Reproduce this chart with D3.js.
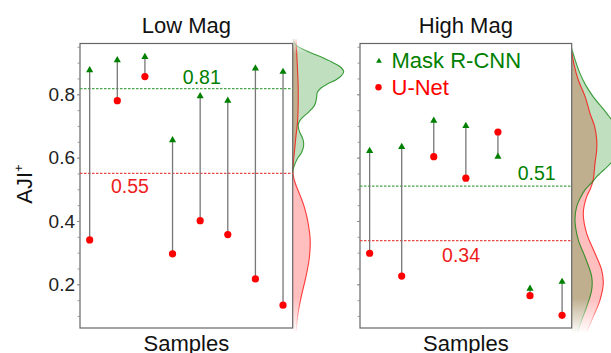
<!DOCTYPE html>
<html>
<head>
<meta charset="utf-8">
<script src="https://cdn.jsdelivr.net/npm/d3@7"></script>
<style>
  body { margin: 0; background: #fff; }
  svg { display: block; font-family: "Liberation Sans", Arial, sans-serif; }
</style>
</head>
<body>
<svg id="chart" width="611" height="353"></svg>
<script>
// per-sample AJI+ values
const lowMask = [0.876, 0.908, 0.918, 0.655, 0.794, 0.780, 0.882, 0.871];
const lowUnet = [0.340, 0.780, 0.856, 0.296, 0.401, 0.357, 0.217, 0.134];
const highMask = [0.621, 0.634, 0.717, 0.700, 0.603, 0.186, 0.208];
const highUnet = [0.298, 0.226, 0.603, 0.535, 0.681, 0.164, 0.102];

// mean lines [mask, unet] and their labels
const lowMeans = [0.818, 0.55];
const highMeans = [0.51, 0.338];
const lowMeanLabels = ["0.81", "0.55"];
const highMeanLabels = ["0.51", "0.34"];

// density curves [AJI, density]
const lowMaskKde = [[0.975, 0.05], [0.956, 0.3], [0.940, 1.2], [0.919, 2.75], [0.902, 3.9], [0.887, 4.75],
  [0.871, 5.1], [0.858, 4.85], [0.845, 4.3], [0.833, 3.5], [0.819, 2.8], [0.805, 2.45], [0.792, 2.4],
  [0.775, 2.3], [0.761, 2.1], [0.744, 1.6], [0.729, 1.05], [0.716, 0.7], [0.703, 0.55], [0.690, 0.6],
  [0.677, 0.75], [0.661, 1.0], [0.645, 1.1], [0.630, 1.05], [0.614, 0.85], [0.598, 0.5], [0.582, 0.25],
  [0.561, 0.03], [0.55, 0]];
const lowUnetKde = [[0.975, 0.33], [0.96, 0.35], [0.90, 0.45], [0.82, 0.55], [0.72, 0.5], [0.66, 0.3],
  [0.62, 0.18], [0.59, 0.08], [0.55, 0.03], [0.52, 0.25], [0.48, 0.75], [0.445, 1.15], [0.40, 1.5],
  [0.34, 1.75], [0.28, 1.65], [0.22, 1.3], [0.16, 0.85], [0.10, 0.5], [0.05, 0.35]];
const highMaskKde = [[0.945, 0], [0.908, 0.35], [0.866, 0.83], [0.829, 1.4], [0.792, 2.16], [0.740, 3.5],
  [0.700, 4.4], [0.656, 4.9], [0.610, 4.5], [0.582, 3.9], [0.540, 2.5], [0.524, 2.1], [0.498, 1.33],
  [0.475, 0.9], [0.445, 0.5], [0.403, 0.33], [0.340, 0.66], [0.287, 1.33], [0.224, 2.0], [0.182, 2.0],
  [0.129, 1.5], [0.087, 1.0], [0.05, 0.6]];
const highUnetKde = [[0.935, 0], [0.892, 0.25], [0.845, 0.66], [0.792, 1.35], [0.740, 1.83], [0.698, 2.3],
  [0.656, 2.5], [0.624, 2.5], [0.582, 2.33], [0.529, 2.15], [0.500, 1.85], [0.477, 1.5], [0.424, 1.16],
  [0.361, 1.5], [0.298, 2.33], [0.245, 3.0], [0.203, 3.16], [0.150, 2.83], [0.098, 2.16], [0.05, 1.5]];

const majorTicks = [0.2, 0.4, 0.6, 0.8];
const minorTicks = d3.range(2, 20).map(i => i * 0.05);
const titles = ["Low Mag", "High Mag"];
const seriesNames = ["Mask R-CNN", "U-Net"];

const GREEN = "#008000";
const RED = "#ff0000";
const FONT = 22;

const svg = d3.select("#chart");
const defs = svg.append("defs");

const y = d3.scaleLinear().domain([0.062, 0.9604]).range([328, 43.5]);
const kdeX = d3.scaleLinear().domain([0, 1]).range([0, 10]);

// vertical fade for the density curves
const grad = defs.append("linearGradient")
    .attr("id", "fade")
    .attr("gradientUnits", "userSpaceOnUse")
    .attr("x1", 0).attr("x2", 0).attr("y1", 36).attr("y2", 334);
[[0, 0], [0.06, 1], [0.88, 1], [1, 0]].forEach(s => {
    grad.append("stop").attr("offset", s[0]).attr("stop-color", "#fff").attr("stop-opacity", s[1]);
});
defs.append("mask").attr("id", "kdeMask")
    .attr("maskUnits", "userSpaceOnUse")
    .attr("x", 0).attr("y", 0).attr("width", 611).attr("height", 353)
  .append("rect")
    .attr("x", 0).attr("y", 0).attr("width", 611).attr("height", 353)
    .attr("fill", "url(#fade)");

const panels = [
    { left: 80, right: 292.7, mask: lowMask, unet: lowUnet, means: lowMeans, labels: lowMeanLabels,
      kde: [lowMaskKde, lowUnetKde], labelPos: [[4.06, -5], [1.46, 20]], yLabels: true },
    { left: 360, right: 571.7, mask: highMask, unet: highUnet, means: highMeans, labels: highMeanLabels,
      kde: [highMaskKde, highUnetKde], labelPos: [[5.21, -6], [2.85, 21]], yLabels: false },
];

panels.forEach((p, pi) => {
    const n = p.mask.length;
    const pad = (n - 1) * 0.05;
    const x = d3.scaleLinear().domain([-pad, n - 1 + pad]).range([p.left, p.right]);
    const g = svg.append("g");

    // density curves on the right of the box (red under green)
    const kg = g.append("g").attr("mask", "url(#kdeMask)");
    const colors = [GREEN, RED];
    const area = d3.area()
        .y(d => y(d[0]))
        .x0(p.right)
        .x1(d => p.right + kdeX(d[1]))
        .curve(d3.curveCatmullRom.alpha(0.5));
    const line = d3.line()
        .y(d => y(d[0]))
        .x(d => p.right + kdeX(d[1]))
        .curve(d3.curveCatmullRom.alpha(0.5));
    [1, 0].forEach(i => {
        kg.append("path").attr("d", area(p.kde[i])).attr("fill", colors[i]).attr("fill-opacity", 0.25);
    });
    [1, 0].forEach(i => {
        kg.append("path").attr("d", line(p.kde[i])).attr("fill", "none")
            .attr("stroke", colors[i]).attr("stroke-opacity", 0.75).attr("stroke-width", 1.1);
    });

    // box
    g.append("rect")
        .attr("x", p.left).attr("y", y.range()[1])
        .attr("width", p.right - p.left).attr("height", y.range()[0] - y.range()[1])
        .attr("fill", "none").attr("stroke", "#666").attr("stroke-width", 1.2);

    // y ticks
    const minorAxis = d3.axisLeft(y).tickValues(minorTicks).tickSize(2.5).tickFormat("");
    const majorAxis = d3.axisLeft(y).tickValues(majorTicks).tickSize(3).tickPadding(2)
        .tickFormat(p.yLabels ? d3.format(".1f") : "");
    [minorAxis, majorAxis].forEach(ax => {
        const a = g.append("g").attr("transform", `translate(${p.left},0)`).call(ax);
        a.select(".domain").remove();
        a.selectAll("line").attr("stroke", "#888").attr("stroke-width", 0.8);
        a.selectAll("text").attr("font-size", 19).attr("fill", "#222")
            .attr("font-family", "'Liberation Sans', Arial, sans-serif");
    });

    // mean lines
    p.means.forEach((m, i) => {
        g.append("line")
            .attr("x1", p.left).attr("x2", p.right)
            .attr("y1", y(m)).attr("y2", y(m))
            .attr("stroke", i === 0 ? "#4aa64a" : "#e84a4a")
            .attr("stroke-width", 1.2)
            .attr("stroke-dasharray", "2.5,1.5");
        g.append("text")
            .attr("x", x(p.labelPos[i][0]))
            .attr("y", y(m) + p.labelPos[i][1])
            .attr("text-anchor", "middle")
            .attr("font-size", 19.5)
            .attr("fill", i === 0 ? GREEN : "#ee1c1c")
            .text(p.labels[i]);
    });

    // connectors
    g.selectAll(".conn").data(d3.range(n)).join("line")
        .attr("x1", i => x(i)).attr("x2", i => x(i))
        .attr("y1", i => y(p.unet[i])).attr("y2", i => y(p.mask[i]))
        .attr("stroke", "#777").attr("stroke-width", 1.3);

    g.selectAll(".tri").data(p.mask).join("path")
        .attr("d", d3.symbol(d3.symbolTriangle, 22))
        .attr("transform", (d, i) => `translate(${x(i)},${y(d)})`)
        .attr("fill", GREEN);
    g.selectAll(".dot").data(p.unet).join("circle")
        .attr("cx", (d, i) => x(i)).attr("cy", d => y(d))
        .attr("r", 3.6).attr("fill", RED);

    // title and x label
    const cx = (p.left + p.right) / 2;
    g.append("text").attr("x", cx).attr("y", 33).attr("text-anchor", "middle")
        .attr("font-size", FONT).attr("fill", "#111").text(titles[pi]);
    g.append("text").attr("x", cx).attr("y", 351).attr("text-anchor", "middle")
        .attr("font-size", FONT).attr("fill", "#111").text("Samples");
});

// y axis label
const yl = svg.append("text")
    .attr("transform", "translate(32,184) rotate(-90)")
    .attr("text-anchor", "middle")
    .attr("font-size", FONT).attr("fill", "#111");
yl.append("tspan").text("AJI");
yl.append("tspan").attr("font-size", 13).attr("dy", -9).text("+");

// legend
const leg = svg.append("g");
leg.append("path")
    .attr("d", d3.symbol(d3.symbolTriangle, 14))
    .attr("transform", "translate(379,61)")
    .attr("fill", GREEN);
leg.append("text").attr("x", 391.5).attr("y", 68.3).attr("font-size", FONT)
    .attr("fill", GREEN).text(seriesNames[0]);
leg.append("circle").attr("cx", 378.5).attr("cy", 87.3).attr("r", 3.2).attr("fill", RED);
leg.append("text").attr("x", 391.5).attr("y", 95).attr("font-size", FONT)
    .attr("fill", RED).text(seriesNames[1]);
</script>
</body>
</html>
